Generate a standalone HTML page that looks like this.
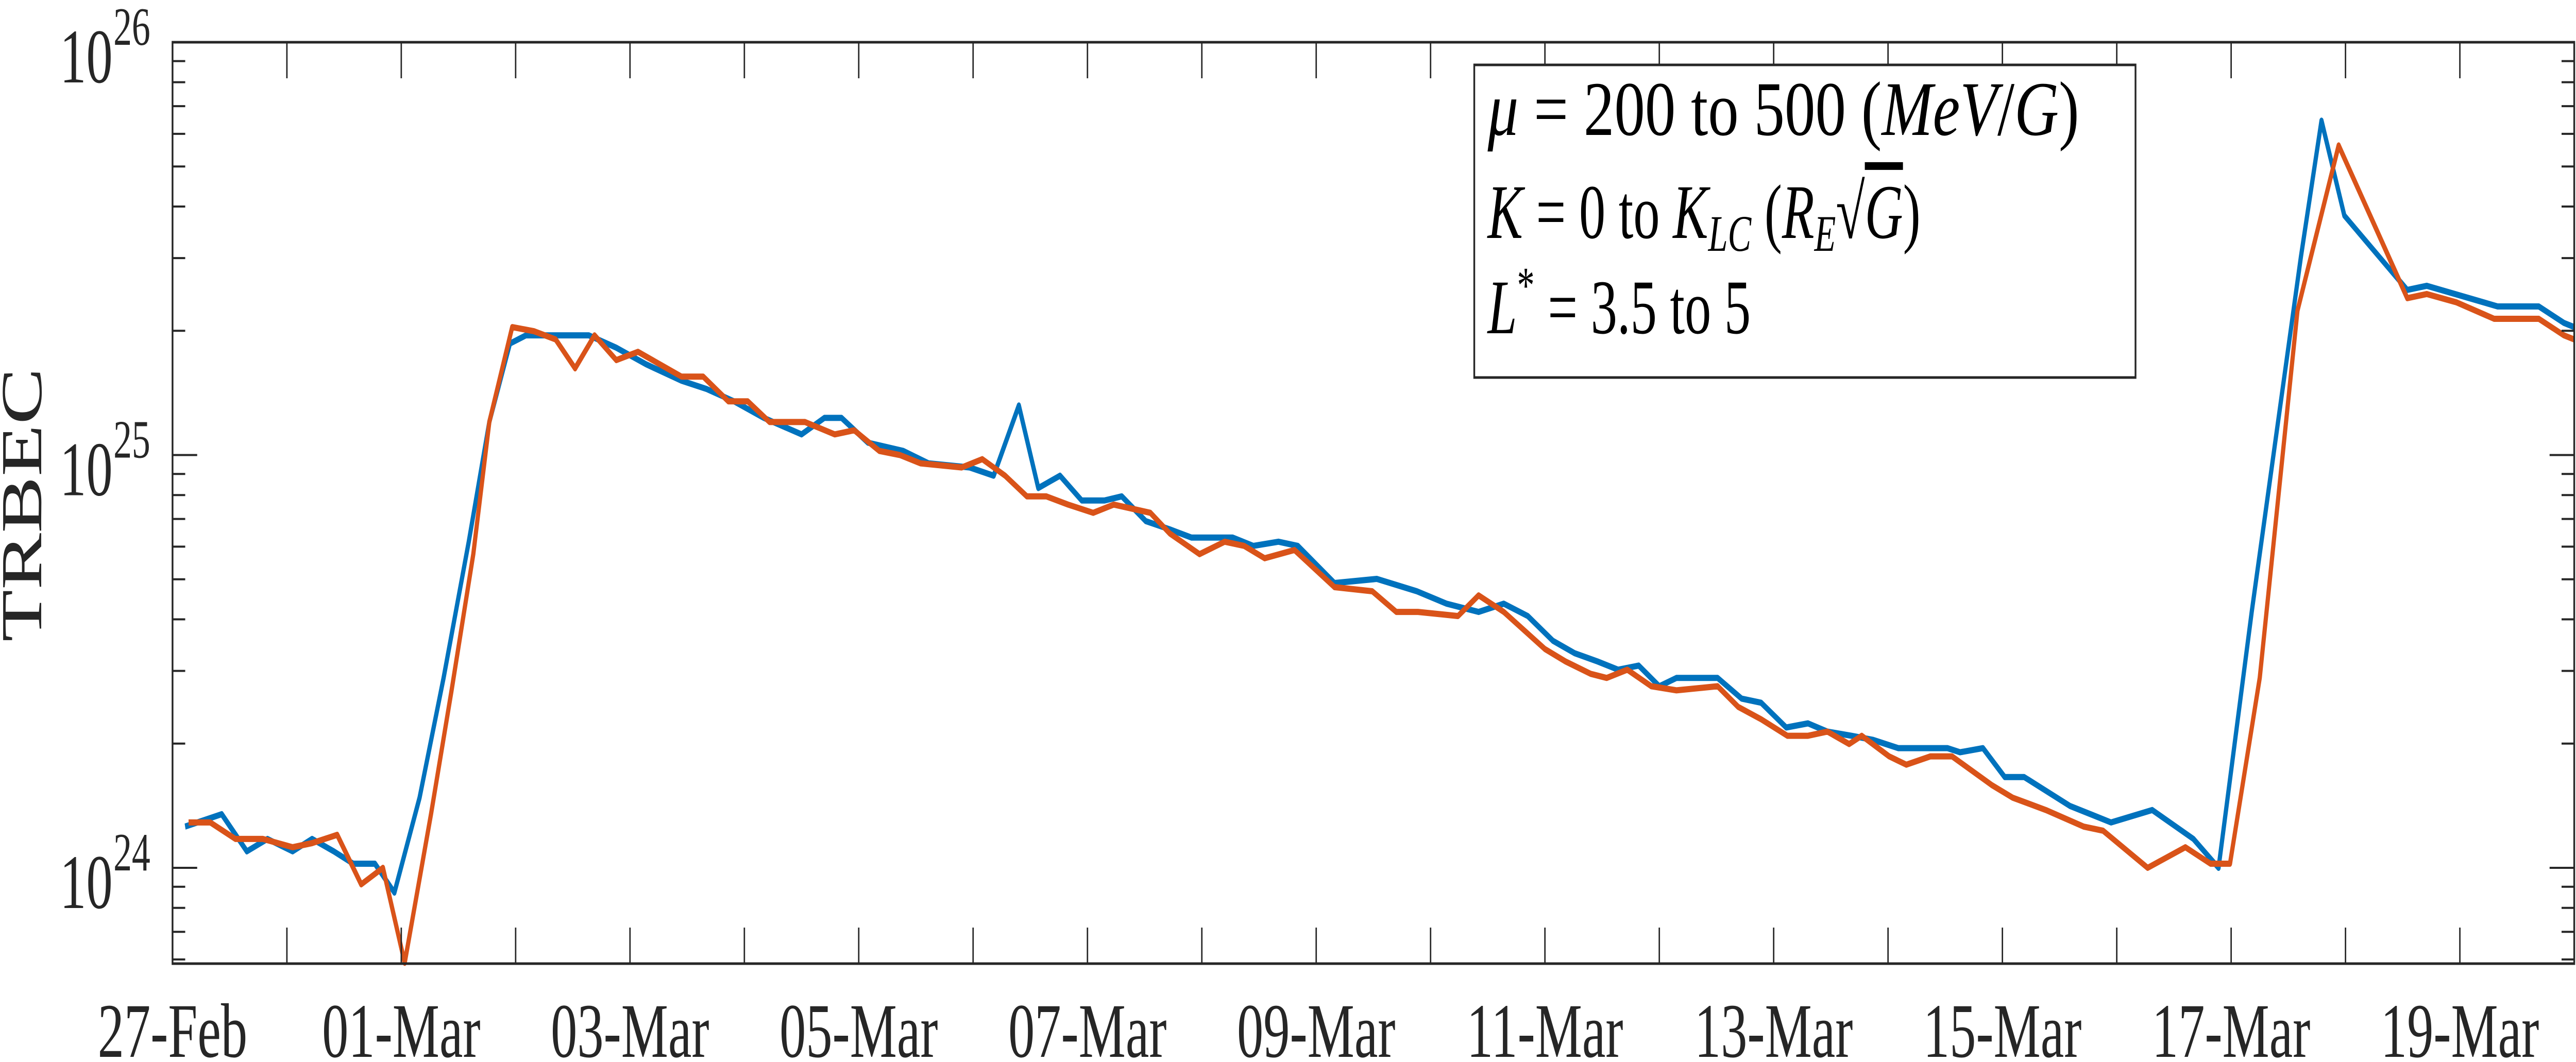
<!DOCTYPE html>
<html><head><meta charset="utf-8"><style>
html,body{margin:0;padding:0;background:#fff;width:100%;height:100%;overflow:hidden;}
svg{display:block;font-family:"Liberation Serif",serif;width:100vw;height:100vh;}
</style></head><body>
<svg id="chart" viewBox="0 0 7316 2062" preserveAspectRatio="none" xmlns="http://www.w3.org/2000/svg">
<rect x="0" y="0" width="7316" height="2062" fill="#fff"/>
<g id="series"></g>
<g id="axes"></g>
<g id="legend">
  <rect x="4187" y="126" width="1878" height="607" fill="#fff" stroke="#262626" stroke-width="5"/>
  <text x="4225" y="262" font-size="150" textLength="1680" lengthAdjust="spacingAndGlyphs" fill="#000"><tspan font-style="italic">μ</tspan> = 200 to 500 (<tspan font-style="italic">MeV</tspan>/<tspan font-style="italic">G</tspan>)</text>
  <text x="4225" y="462" font-size="150" fill="#000"><tspan font-style="italic">K</tspan> = 0 to <tspan font-style="italic">K</tspan><tspan font-style="italic" font-size="100" dy="25">LC</tspan><tspan dy="-25"> (</tspan><tspan font-style="italic">R</tspan><tspan font-style="italic" font-size="100" dy="25">E</tspan><tspan dy="-25">√</tspan><tspan font-style="italic" text-decoration="overline">G</tspan>)</text>
  <text x="4225" y="647" font-size="150" fill="#000"><tspan font-style="italic">L</tspan><tspan font-size="100" dy="-60">*</tspan><tspan dy="60"> = 3.5 to 5</tspan></text>
</g>
<text transform="translate(117,980) rotate(-90)" text-anchor="middle" font-size="165" fill="#262626">TRBEC</text>
</svg>
<script>
// ---- data (x: days since 27-Feb, y: log10 TRBEC) ----
const xTickLabels = ["27-Feb","01-Mar","03-Mar","05-Mar","07-Mar","09-Mar","11-Mar","13-Mar","15-Mar","17-Mar","19-Mar"];
const yDecades = [24, 25, 26];
const blueDays = [0.11,0.43,0.65,0.83,1.05,1.22,1.41,1.58,1.77,1.94,2.16,2.37,2.59,2.77,2.95,3.09,3.64,3.88,4.14,4.45,4.67,4.91,5.17,5.50,5.70,5.85,6.08,6.39,6.61,6.97,7.18,7.40,7.57,7.76,7.95,8.15,8.30,8.51,8.72,8.91,9.27,9.45,9.67,9.84,10.16,10.53,10.88,11.14,11.42,11.64,11.85,12.07,12.26,12.46,12.64,12.82,13.00,13.15,13.51,13.72,13.89,14.11,14.30,14.47,14.68,14.87,15.09,15.52,15.63,15.83,16.02,16.19,16.59,16.77,16.95,17.31,17.67,17.89,18.18,18.46,18.61,18.79,18.99,19.54,19.71,20.33,20.69,20.91,21.0];
const blueLog = [24.10,24.13,24.04,24.07,24.04,24.07,24.04,24.01,24.01,23.94,24.17,24.46,24.79,25.08,25.27,25.29,25.29,25.26,25.22,25.18,25.16,25.13,25.09,25.05,25.09,25.09,25.03,25.01,24.98,24.97,24.95,25.12,24.92,24.95,24.89,24.89,24.90,24.84,24.82,24.80,24.80,24.78,24.79,24.78,24.69,24.70,24.67,24.64,24.62,24.64,24.61,24.55,24.52,24.50,24.48,24.49,24.44,24.46,24.46,24.41,24.40,24.34,24.35,24.33,24.32,24.31,24.29,24.29,24.28,24.29,24.22,24.22,24.15,24.13,24.11,24.14,24.07,24.00,24.62,25.18,25.48,25.81,25.58,25.40,25.41,25.36,25.36,25.32,25.31];
const orangeDays = [0.14,0.33,0.55,0.79,1.05,1.22,1.44,1.65,1.84,2.03,2.26,2.44,2.63,2.77,2.97,3.16,3.35,3.52,3.69,3.88,4.07,4.45,4.64,4.86,5.03,5.22,5.53,5.79,5.96,6.18,6.36,6.54,6.90,7.08,7.28,7.47,7.64,7.83,8.05,8.23,8.55,8.72,8.98,9.20,9.37,9.55,9.81,10.16,10.49,10.70,10.89,11.24,11.42,11.64,12.00,12.18,12.40,12.54,12.72,12.93,13.15,13.51,13.69,13.89,14.12,14.30,14.47,14.66,14.77,15.01,15.16,15.37,15.56,15.91,16.09,16.38,16.71,16.88,17.27,17.60,17.82,17.99,18.25,18.58,18.94,19.54,19.71,19.97,20.30,20.69,20.91,21.0];
const orangeLog = [24.11,24.11,24.07,24.07,24.05,24.06,24.08,23.96,24.00,23.77,24.13,24.43,24.76,25.08,25.31,25.30,25.28,25.21,25.29,25.23,25.25,25.19,25.19,25.13,25.13,25.08,25.08,25.05,25.06,25.01,25.00,24.98,24.97,24.99,24.95,24.90,24.90,24.88,24.86,24.88,24.86,24.81,24.76,24.79,24.78,24.75,24.77,24.68,24.67,24.62,24.62,24.61,24.66,24.62,24.53,24.50,24.47,24.46,24.48,24.44,24.43,24.44,24.39,24.36,24.32,24.32,24.33,24.30,24.32,24.27,24.25,24.27,24.27,24.20,24.17,24.14,24.10,24.09,24.00,24.05,24.01,24.01,24.46,25.35,25.75,25.38,25.39,25.37,25.33,25.33,25.29,25.28];

const NS = "http://www.w3.org/2000/svg";
const L = 490, R = 7311, T = 82, B = 1871;
const X0 = 0, X1 = 21, Y0 = 23.768, Y1 = 26;
function sx(d){ return L + (d - X0) / (X1 - X0) * (R - L); }
function sy(v){ return B - (v - Y0) / (Y1 - Y0) * (B - T); }
function mk(tag, attrs, parent){ const e = document.createElementNS(NS, tag); for (const k in attrs) e.setAttribute(k, attrs[k]); parent.appendChild(e); return e; }

const axes = document.getElementById('axes');
const series = document.getElementById('series');

const defs = mk('defs', {}, document.getElementById('chart'));
const cp = mk('clipPath', {id:'plotclip'}, defs);
mk('rect', {x:L, y:T-20, width:R-L, height:B-T+40}, cp);

function drawSeries(days, logs, color, name){
  let d = '';
  for (let i = 0; i < days.length; i++) d += (i ? 'L' : 'M') + sx(days[i]).toFixed(1) + ',' + sy(logs[i]).toFixed(1);
  const p = mk('path', {d:d, fill:'none', stroke:color, 'stroke-width':12, 'stroke-linejoin':'round', 'clip-path':'url(#plotclip)'}, series);
  
  
}
drawSeries(blueDays, blueLog, '#0072BD', 'series-blue-line');
drawSeries(orangeDays, orangeLog, '#D95319', 'series-orange-line');

const box = mk('rect', {x:L, y:T, width:R-L, height:B-T, fill:'none', stroke:'#262626', 'stroke-width':5}, axes);



for (let d = 0; d <= 21; d++){
  const x = sx(d);
  mk('line', {x1:x, y1:B, x2:x, y2:B-70, stroke:'#262626', 'stroke-width':4}, axes);
  mk('line', {x1:x, y1:T, x2:x, y2:T+70, stroke:'#262626', 'stroke-width':4}, axes);
}
xTickLabels.forEach((lab, i) => {
  const t = mk('text', {x:sx(i*2), y:2052, 'text-anchor':'middle', 'font-size':150, fill:'#262626'}, axes);
  t.textContent = lab;
  
  
});

for (let dec = 23; dec <= 26; dec++){
  for (let m = 1; m <= 9; m++){
    const v = dec + Math.log10(m);
    if (v < Y0 - 1e-6 || v > Y1 + 1e-6) continue;
    const y = sy(v);
    const len = m === 1 ? 70 : 36;
    mk('line', {x1:L, y1:y, x2:L+len, y2:y, stroke:'#262626', 'stroke-width':4}, axes);
    mk('line', {x1:R, y1:y, x2:R-len, y2:y, stroke:'#262626', 'stroke-width':4}, axes);
  }
}
yDecades.forEach(dec => {
  const y = sy(dec);
  const t = mk('text', {x:320, y:y+78, 'text-anchor':'end', 'font-size':150, fill:'#262626'}, axes);
  t.textContent = '10';
  
  
  const e = mk('text', {x:322, y:y+5, 'text-anchor':'start', 'font-size':105, fill:'#262626'}, axes);
  e.textContent = String(dec);
  
  
});
</script>
</body></html>
